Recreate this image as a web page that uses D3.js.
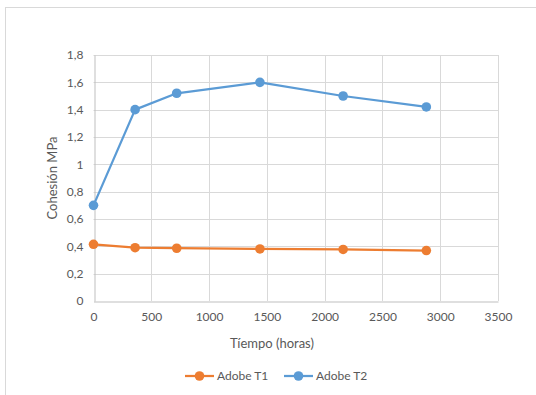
<!DOCTYPE html>
<html><head><meta charset="utf-8">
<script src="https://cdn.jsdelivr.net/npm/d3@7"></script>
<style>body{margin:0;background:#fff}svg{display:block}text{font-family:Lato,"Open Sans",sans-serif}</style>
</head><body><svg id="c" width="536" height="395"></svg>
<script>
const hours = [0, 360, 720, 1440, 2160, 2880];
const adobeT1 = [0.415, 0.39, 0.386, 0.381, 0.377, 0.369];
const adobeT2 = [0.70, 1.40, 1.52, 1.60, 1.50, 1.42];
const xTicks = [0, 500, 1000, 1500, 2000, 2500, 3000, 3500];
const yTicks = [0, 0.2, 0.4, 0.6, 0.8, 1, 1.2, 1.4, 1.6, 1.8];
const seriesNames = ["Adobe T1", "Adobe T2"];
const colors = ["#ED7D31", "#5B9BD5"];

const svg = d3.select("#c");
svg.append("rect").attr("x",5.5).attr("y",7.5).attr("width",540).attr("height",400)
  .attr("fill","#fff").attr("stroke","#d9d9d9");

const x = d3.scaleLinear().domain([0,3500]).range([93.5,498]);
const y = d3.scaleLinear().domain([0,1.8]).range([301,55]);
const fmt = d => d3.format(",")(d).replace(",", "").replace(".", ",");

// gridlines
svg.append("g").selectAll("line").data(yTicks.filter(d=>d>0)).join("line")
  .attr("x1",x(0)).attr("x2",x(3500)).attr("y1",d=>Math.round(y(d))+0.5).attr("y2",d=>Math.round(y(d))+0.5)
  .attr("stroke","#d9d9d9").attr("stroke-width",1);
svg.append("g").selectAll("line").data(xTicks.filter(d=>d>0)).join("line")
  .attr("x1",d=>Math.round(x(d))+0.5).attr("x2",d=>Math.round(x(d))+0.5).attr("y1",y(0)).attr("y2",y(1.8))
  .attr("stroke","#d9d9d9").attr("stroke-width",1);

// axes
const xa = svg.append("g").attr("transform",`translate(0,${Math.round(y(0))+0.5})`)
  .call(d3.axisBottom(x).tickValues(xTicks).tickSize(0).tickPadding(11).tickFormat(d=>String(d)));
xa.select(".domain").attr("stroke","#bfbfbf");
xa.selectAll("text").attr("fill","#595959").attr("font-size",12);
const ya = svg.append("g").attr("transform",`translate(${Math.round(x(0))+0.5},0)`)
  .call(d3.axisLeft(y).tickValues(yTicks).tickSize(0).tickPadding(11).tickFormat(d=>String(d).replace(".",",")));
ya.select(".domain").attr("stroke","#bfbfbf");
ya.selectAll("text").attr("fill","#595959").attr("font-size",12);

// titles
svg.append("text").attr("x",272).attr("y",348).attr("text-anchor","middle")
  .attr("font-size",13).attr("fill","#595959").text("Tíempo (horas)");
svg.append("text").attr("transform","translate(57,178) rotate(-90)").attr("text-anchor","middle")
  .attr("font-size",13).attr("fill","#595959").text("Cohesión MPa");

// series
const line = d3.line().x((d,i)=>x(hours[i])).y(d=>y(d));
[adobeT1, adobeT2].forEach((s,k)=>{
  svg.append("path").datum(s).attr("d",line).attr("fill","none")
    .attr("stroke",colors[k]).attr("stroke-width",2.25).attr("stroke-linejoin","round");
  svg.append("g").selectAll("circle").data(s).join("circle")
    .attr("cx",(d,i)=>x(hours[i])).attr("cy",d=>y(d)).attr("r",4.8).attr("fill",colors[k]);
});

// legend
const lg = [{x0:185,x1:214,tx:217},{x0:284,x1:313,tx:316}];
lg.forEach((p,k)=>{
  svg.append("line").attr("x1",p.x0).attr("x2",p.x1).attr("y1",376).attr("y2",376)
    .attr("stroke",colors[k]).attr("stroke-width",2.25);
  svg.append("circle").attr("cx",(p.x0+p.x1)/2).attr("cy",376).attr("r",4.8).attr("fill",colors[k]);
  svg.append("text").attr("x",p.tx).attr("y",380).attr("font-size",12).attr("fill","#595959").text(seriesNames[k]);
});
</script></body></html>
